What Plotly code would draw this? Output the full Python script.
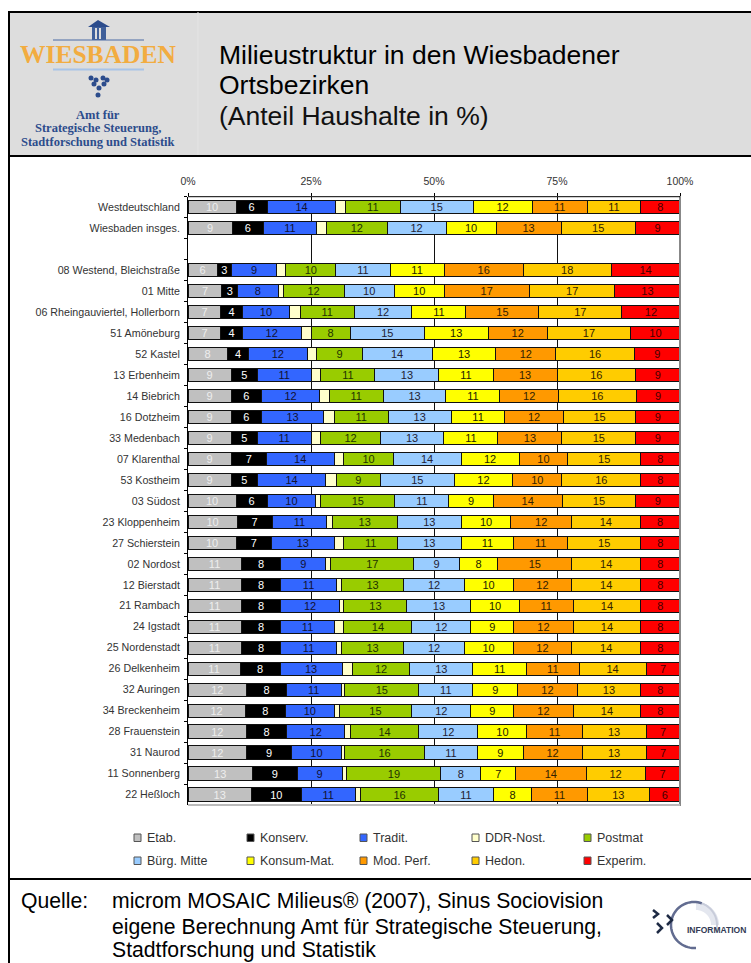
import math
import plotly.graph_objects as go

W, H = 751, 963
FONT = "Liberation Sans"

categories = ["Westdeutschland", "Wiesbaden insges.", " ",
    "08 Westend, Bleichstraße", "01 Mitte", "06 Rheingauviertel, Hollerborn", "51 Amöneburg", "52 Kastel",
    "13 Erbenheim", "14 Biebrich", "16 Dotzheim", "33 Medenbach", "07 Klarenthal", "53 Kostheim", "03 Südost",
    "23 Kloppenheim", "27 Schierstein", "02 Nordost", "12 Bierstadt", "21 Rambach", "24 Igstadt", "25 Nordenstadt",
    "26 Delkenheim", "32 Auringen", "34 Breckenheim", "28 Frauenstein", "31 Naurod", "11 Sonnenberg", "22 Heßloch"]

etab = [9.8,9.0,None,5.9,6.9,6.7,6.7,8,8.8,8.8,8.8,8.8,8.8,8.8,9.8,10,9.8,10.8,10.8,10.8,10.8,10.8,10.6,11.9,11.6,11.9,11.9,13.1,12.9]
konserv = [6.3,6.3,None,3.0,3.2,4.3,4.3,4.3,5.3,6.1,6.1,5.3,7.1,5.3,6.3,7.1,7.2,8.1,8.1,8.1,8.1,8.1,8.1,8.1,8.2,8.1,9.2,9.1,10.1]
tradit = [14,10.9,None,9.1,8.2,9.7,12,11.9,10.9,11.9,12.7,10.9,13.8,13.9,9.9,11.1,12.7,9.1,11.2,11.8,10.8,11.2,12.6,11.1,9.9,11.9,10,9.1,11]
ddr_nost = [1.9,2,None,1.9,1,2.1,2,2,2,1.9,2.1,2,2,2.1,1,1.1,2,1,1,1,2,1,2.1,.8,1,1.1,.8,1,1]
postmat = [11.2,12.3,None,10.2,12.4,11,8,9.2,11,11,11,12.1,10,9,15.1,13.3,10.9,16.9,12.8,12.8,13.8,12.8,11.7,15,14.8,13.9,16.1,19.1,16]
buerg_mitte = [14.8,12,None,11,10.2,11.7,15,14.2,13,12.7,12.8,12.9,13.8,15,11,13,12.9,9.2,12.2,13,12,12.2,12.8,11,12,12,10.9,8.1,11]
konsum_mat = [12,10.2,None,11,10.1,11,13,13,11,11,10.9,11,11.8,11.9,9,10.1,10.7,7.9,10,9.8,8.7,10,10.9,9.1,8.7,10,9.2,7.1,7.9]
mod_perf = [11.2,13.2,None,16.1,17.3,14.8,12,12.1,13,11.9,11.9,13,9.9,10,14,12.3,11,15,11.9,11,12.1,11.9,10.7,12.1,12.1,11.2,12,14.3,11.2]
hedon = [10.9,15.1,None,17.9,17.4,16.9,17,16.1,16,15.8,14.7,15,14.8,16,15,14,14.8,14,14,13.7,13.7,14,13.6,12.9,13.7,13,13,12,12.7]
experim = [8,9.1,None,14,13.2,11.8,10,9.2,9,8.9,9,9,8,8,9,8.1,8,8,8,8,8,8,6.9,8,8,6.9,6.9,7.1,6.2]

series_names = ["Etab.", "Konserv.", "Tradit.", "DDR-Nost.", "Postmat", "Bürg. Mitte", "Konsum-Mat.", "Mod. Perf.", "Hedon.", "Experim."]
series_values = [etab, konserv, tradit, ddr_nost, postmat, buerg_mitte, konsum_mat, mod_perf, hedon, experim]
series_colors = ["#C0C0C0", "#000000", "#3366FF", "#FFFFCC", "#99CC00", "#99CCFF", "#FFFF00", "#FF9900", "#FFCC00", "#FF0000"]
label_colors = ["#EEEEEE", "#FFFFFF", "#111133", None, "#223300", "#222233", "#222200", "#332200", "#332200", "#440000"]
tick_values = [0, 25, 50, 75, 100]


def X(p):
    return p / W


def Y(p):
    return 1 - p / H


fig = go.Figure()
for name, vals, col, lc in zip(series_names, series_values, series_colors, label_colors):
    fig.add_trace(go.Bar(
        name=name, y=categories, x=vals, orientation="h",
        marker=dict(color=col, line=dict(color="#111111", width=1)),
        text=None if lc is None else ["" if v is None else f"{v:.0f}" for v in vals],
        textposition="inside" if lc else "none", insidetextanchor="middle", textangle=0, constraintext="none",
        insidetextfont=dict(family=FONT, size=11, color=lc or "#000"),
        hoverinfo="x+y+name", showlegend=False,
    ))

shapes = []
annos = []


def rect(x0, y0, x1, y1, fill, line=None, w=0, layer="above"):
    shapes.append(dict(type="rect", xref="paper", yref="paper", x0=X(x0), x1=X(x1), y0=Y(y0), y1=Y(y1),
                       fillcolor=fill, line=dict(color=line or fill, width=w), layer=layer))


def line(x0, y0, x1, y1, col="#000", w=2, layer="above"):
    shapes.append(dict(type="line", xref="paper", yref="paper", x0=X(x0), x1=X(x1), y0=Y(y0), y1=Y(y1),
                       line=dict(color=col, width=w), layer=layer))


def txt(x, y, s, size, col="#000", anchor="left", fam=FONT):
    annos.append(dict(xref="paper", yref="paper", x=X(x), y=Y(y), text=s, showarrow=False, xanchor=anchor,
                      yanchor="middle", font=dict(family=fam, size=size, color=col), align=anchor))


def arc(cx, cy, r, a0, a1, col, w):
    pts = [(cx + r * math.cos(math.radians(a0 + (a1 - a0) * i / 40)),
            cy + r * math.sin(math.radians(a0 + (a1 - a0) * i / 40))) for i in range(41)]
    path = "M" + " L".join(f"{X(a):.5f},{Y(b):.5f}" for a, b in pts)
    shapes.append(dict(type="path", xref="paper", yref="paper", path=path, line=dict(color=col, width=w)))


def poly(pts, col, w=2):
    path = "M" + " L".join(f"{X(a):.5f},{Y(b):.5f}" for a, b in pts)
    shapes.append(dict(type="path", xref="paper", yref="paper", path=path, line=dict(color=col, width=w)))


# page frame and title band
rect(9, 12, W, 156, "#DDDDDD", layer="below")
line(8, 12, W, 12)
line(9, 11, 9, H)
line(8, 156, W, 156)
line(8, 879, W, 879)
line(198, 12, 198, 155, "#E4E4E4", 1)

# right and bottom borders of the plot
line(680, 196, 680, 806, "#888888", 2)
line(188, 805, 680, 805, "#BBBBBB", 2)
line(188, 196.7, 680, 196.7, "#000000", 1)

# Wiesbaden logo
NAVY = "#2C4C8C"
rect(92, 26, 106, 40, "#3F5F9A")
rect(95, 28, 97, 39, "#DDDDDD")
rect(99, 28, 101, 39, "#DDDDDD")
shapes.append(dict(type="path", xref="paper", yref="paper",
                   path=f"M{X(88)},{Y(27)} L{X(98)},{Y(20)} L{X(110)},{Y(27)} Z", fillcolor=NAVY, line=dict(color=NAVY, width=0)))
line(53, 40, 144, 40, "#4A6AA5", 1)
line(53, 69.5, 144, 69.5, "#A8C4E8", 2)
txt(98, 54, "<b>WIESBADEN</b>", 25.5, "#F2AC40", "center", "Liberation Serif")
for gx, gy in [(91, 78), (96, 80), (103, 78), (107, 80), (99, 88), (94, 84), (104, 84), (98, 95)]:
    shapes.append(dict(type="circle", xref="paper", yref="paper", x0=X(gx - 2.5), x1=X(gx + 2.5), y0=Y(gy - 2.5), y1=Y(gy + 2.5),
                       fillcolor=NAVY, line=dict(width=0)))
txt(98, 115, "<b>Amt für</b>", 12.5, NAVY, "center", "Liberation Serif")
txt(98, 128, "<b>Strategische Steuerung,</b>", 12.5, NAVY, "center", "Liberation Serif")
txt(98, 142, "<b>Stadtforschung und Statistik</b>", 12.5, NAVY, "center", "Liberation Serif")

# title
txt(217, 55, "Milieustruktur in den Wiesbadener", 26.5)
txt(217, 85, "Ortsbezirken", 26.5)
txt(217, 116, "(Anteil Haushalte in %)", 26.5, "#111111")

# legend
col_x = [134, 247, 360, 472, 584]
row_y = [838, 861]
for i, (name, col) in enumerate(zip(series_names, series_colors)):
    cx, cy = col_x[i % 5], row_y[i // 5]
    rect(cx, cy - 4, cx + 7, cy + 3.5, col, "#555555", 1)
    txt(cx + 11, cy - 0.5, name, 12.5, "#333333")

# footer
txt(19, 901, "Quelle:", 21.2)
txt(110, 901, "microm MOSAIC Milieus® (2007), Sinus Sociovision", 21.2)
txt(110, 927, "eigene Berechnung Amt für Strategische Steuerung,", 21.2)
txt(110, 950, "Stadtforschung und Statistik", 21.2)

# information logo
arc(696, 925, 19, 270, 360, "#E4E7EF", 8)
arc(694, 925, 23, 85, 290, "#626C90", 2.5)
arc(694, 925, 23, 290, 375, "#C8CCDA", 2)
poly([(653, 910), (658, 914), (653, 918)], "#1E2A44", 2.5)
poly([(667, 915), (672, 920), (667, 925)], "#1E2A44", 2.5)
poly([(657, 923), (662, 928), (657, 933)], "#1E2A44", 2.5)
txt(685, 930, "<b>INFORMATION</b>", 8.5, "#333B55")

fig.update_layout(
    width=W, height=H, autosize=False, barmode="stack", barnorm="percent", bargap=0.37,
    margin=dict(l=0, r=0, t=0, b=0, pad=0), paper_bgcolor="#FFFFFF", plot_bgcolor="#FFFFFF",
    showlegend=False, shapes=shapes, annotations=annos, font=dict(family=FONT, color="#333333"),
    xaxis=dict(domain=[X(188), X(680)], range=[0, 100], side="top", tickmode="array", tickvals=tick_values,
               ticktext=[f"{t}%" for t in tick_values], ticks="outside", ticklen=3, tickcolor="#000",
               ticklabelstandoff=4,
               showgrid=True, gridcolor="#111111", gridwidth=1, zeroline=False, showline=False,
               tickfont=dict(family=FONT, size=10.5, color="#333333"), automargin=False),
    yaxis=dict(domain=[Y(805), Y(196.7)], autorange="reversed", type="category", categoryorder="array",
               categoryarray=categories, tickmode="linear", dtick=1, tickson="boundaries", ticks="outside", ticklen=3,
               tickcolor="#000", showgrid=False, zeroline=False, showline=True, linecolor="#000", linewidth=1,
               ticklabelstandoff=5, tickfont=dict(family=FONT, size=10.7, color="#333333"), automargin=False),
)

fig.write_html("out.html", config=dict(displayModeBar=False), post_script="document.body.style.margin='0';")
